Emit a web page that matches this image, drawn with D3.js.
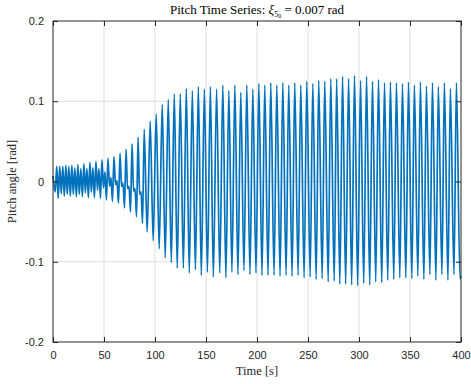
<!DOCTYPE html>
<html>
<head>
<meta charset="utf-8">
<script src="https://cdn.jsdelivr.net/npm/d3@7"></script>
<style>
  body { margin: 0; background: #fff; }
</style>
</head>
<body>
<div id="chart"></div>
<script>
// extrema of the pitch signal (time [s], pitch [rad])
var peakTimes = [
  0, 2.2, 3.7, 5.1, 6.6, 8.1, 9.6, 11.1, 12.6, 14.0, 15.5, 17.0, 18.5, 19.9,
  21.4, 22.9, 24.4, 25.8, 27.3, 28.8, 30.3, 31.7, 33.2, 34.7, 36.2, 37.6,
  39.1, 40.6, 42.1, 43.6, 45.0, 46.5, 48.0, 49.5, 50.9, 52.4,
  53.9, 55.4, 56.8, 58.3, 59.8, 61.3, 62.7, 64.2, 65.7, 67.2, 68.6, 70.1,
  71.6, 73.1, 74.5, 76.0, 77.5, 79.0, 80.4, 81.9, 83.4, 84.9, 86.3, 87.8,
  89.4, 92.3, 95.3, 98.2, 101.2, 104.1, 107.1, 110.0, 113.0, 116.0, 118.9,
  121.8, 124.8, 127.8, 130.7, 133.6, 136.6, 139.6, 142.5, 145.4, 148.4,
  151.4, 154.3, 157.2, 160.4, 163.5, 166.5, 169.5, 172.4, 175.4, 178.3,
  181.3, 184.1, 187.2, 190.0, 193.1, 195.9, 199.0, 201.8, 204.9, 207.6,
  210.8, 213.5, 216.7, 219.4, 222.6, 225.3, 228.5, 231.1, 234.4, 237.0,
  240.3, 242.9, 246.2, 248.8, 252.1, 254.7, 258.0, 260.5, 263.9, 266.4,
  269.8, 272.3, 275.7, 278.1, 281.2, 283.9, 286.9, 289.8, 292.8, 295.6,
  298.7, 301.5, 304.6, 307.4, 310.5, 313.2, 316.4, 319.1, 322.3, 325.0,
  328.2, 330.8, 334.1, 336.7, 340.0, 342.6, 345.9, 348.5, 351.8, 354.3,
  357.7, 360.2, 363.6, 366.1, 369.5, 372.0, 375.4, 377.8, 381.3, 383.7,
  387.2, 389.6, 393.1, 395.5, 399.0, 400
];
var peakPitch = [
  0.007, -0.013, 0.019, -0.021, 0.019, -0.015, 0.019, -0.018, 0.020, -0.016,
  0.019, -0.018, 0.020, -0.016, 0.017, -0.019, 0.021, -0.016, 0.016, -0.019,
  0.022, -0.014, 0.016, -0.020, 0.024, -0.013, 0.017, -0.020, 0.025, -0.011,
  0.016, -0.021, 0.027, -0.008, 0.012, -0.023,
  0.029, -0.006, 0.005, -0.025, 0.031, -0.004, 0.001, -0.027, 0.035, -0.006,
  -0.002, -0.033, 0.040, -0.009, -0.006, -0.038, 0.047, -0.012, -0.009, -0.044,
  0.055, -0.016, -0.013, -0.052,
  0.065, -0.063, 0.075, -0.074, 0.084, -0.084, 0.096, -0.095, 0.102, -0.101,
  0.109, -0.108, 0.109, -0.108, 0.116, -0.114, 0.113, -0.110, 0.118, -0.117,
  0.115, -0.113, 0.118, -0.119, 0.115, -0.114, 0.120, -0.120, 0.113, -0.113,
  0.120, -0.116, 0.111, -0.111, 0.120, -0.116, 0.115, -0.114, 0.122, -0.117,
  0.120, -0.117, 0.123, -0.117, 0.120, -0.118, 0.123, -0.117, 0.120, -0.118,
  0.123, -0.117, 0.120, -0.120, 0.125, -0.119, 0.122, -0.122, 0.126, -0.121,
  0.125, -0.125, 0.128, -0.124, 0.128, -0.128, 0.131, -0.128, 0.128, -0.129,
  0.132, -0.130, 0.126, -0.127, 0.131, -0.129, 0.125, -0.125, 0.127, -0.126,
  0.123, -0.123, 0.124, -0.122, 0.123, -0.120, 0.122, -0.120, 0.124, -0.121,
  0.120, -0.118, 0.124, -0.122, 0.119, -0.116, 0.123, -0.123, 0.118, -0.116,
  0.123, -0.123, 0.116, -0.116, 0.123, -0.121, -0.118
];

var xTicks = [0, 50, 100, 150, 200, 250, 300, 350, 400];
var yTicks = [-0.2, -0.1, 0, 0.1, 0.2];
var yTickLabels = ["-0.2", "-0.1", "0", "0.1", "0.2"];

var margin = {top: 21, right: 10, bottom: 42, left: 53},
    width = 471 - margin.left - margin.right,
    height = 384 - margin.top - margin.bottom;

var svg = d3.select("#chart")
  .append("svg")
    .attr("width", 471)
    .attr("height", 384)
  .append("g")
    .attr("transform", "translate(" + margin.left + "," + margin.top + ")");

var x = d3.scaleLinear().domain([0, 400]).range([0, width]);
var y = d3.scaleLinear().domain([-0.2, 0.2]).range([height, 0]);

var axisColor = "#262626";
var sans = "'Liberation Sans', Arial, sans-serif";
var serif = "'Liberation Serif', 'Times New Roman', serif";

// grid
svg.append("g")
  .selectAll("line.gx")
  .data(xTicks.slice(1, -1))
  .enter().append("line")
    .attr("x1", function(d) { return x(d); })
    .attr("x2", function(d) { return x(d); })
    .attr("y1", 0).attr("y2", height)
    .attr("stroke", "#dfdfdf").attr("stroke-width", 1);

svg.append("g")
  .selectAll("line.gy")
  .data(yTicks.slice(1, -1))
  .enter().append("line")
    .attr("x1", 0).attr("x2", width)
    .attr("y1", function(d) { return y(d); })
    .attr("y2", function(d) { return y(d); })
    .attr("stroke", "#dfdfdf").attr("stroke-width", 1);

// the signal
var line = d3.line()
  .x(function(d) { return x(d[0]); })
  .y(function(d) { return y(d[1]); })
  .curve(d3.curveMonotoneX);

var series = peakTimes.map(function(t, i) { return [t, peakPitch[i]]; });

svg.append("path")
  .datum(series)
  .attr("fill", "none")
  .attr("stroke", "#0072BD")
  .attr("stroke-width", 1.7)
  .attr("d", line);

// axes with inward ticks on all four sides
function styleAxis(g) {
  g.select(".domain").remove();
  g.selectAll(".tick line").attr("stroke", axisColor);
  g.selectAll(".tick text")
    .attr("fill", axisColor)
    .style("font-family", sans)
    .style("font-size", "11px");
}

svg.append("g")
  .attr("transform", "translate(0," + height + ")")
  .call(d3.axisBottom(x).tickValues(xTicks).tickSizeInner(-5).tickPadding(9)
        .tickFormat(d3.format("d")))
  .call(styleAxis);

svg.append("g")
  .call(d3.axisTop(x).tickValues(xTicks).tickSizeInner(-5).tickFormat(""))
  .call(styleAxis);

svg.append("g")
  .call(d3.axisLeft(y).tickValues(yTicks).tickSizeInner(-5).tickPadding(9)
        .tickFormat(function(d, i) { return yTickLabels[i]; }))
  .call(styleAxis);

svg.append("g")
  .attr("transform", "translate(" + width + ",0)")
  .call(d3.axisRight(y).tickValues(yTicks).tickSizeInner(-5).tickFormat(""))
  .call(styleAxis);

// box
svg.append("rect")
  .attr("x", 0).attr("y", 0)
  .attr("width", width).attr("height", height)
  .attr("fill", "none")
  .attr("stroke", axisColor)
  .attr("stroke-width", 1);

// title with nested subscript
var title = svg.append("text")
  .attr("x", width / 2)
  .attr("y", -7)
  .attr("text-anchor", "middle")
  .style("font-family", serif)
  .style("font-size", "13px")
  .attr("fill", "#000");
title.append("tspan").text("Pitch Time Series: ");
title.append("tspan").style("font-style", "italic").text("\u03BE");
title.append("tspan").attr("dy", 2.5).style("font-size", "8px").text("5");
title.append("tspan").attr("dy", 1.5).style("font-size", "6px").text("0");
title.append("tspan").attr("dy", -4).text(" = 0.007 rad");

svg.append("text")
  .attr("x", width / 2)
  .attr("y", height + 33)
  .attr("text-anchor", "middle")
  .style("font-family", serif)
  .style("font-size", "12.5px")
  .attr("fill", "#262626")
  .text("Time [s]");

svg.append("text")
  .attr("transform", "rotate(-90)")
  .attr("x", -height / 2)
  .attr("y", -37)
  .attr("text-anchor", "middle")
  .style("font-family", serif)
  .style("font-size", "12.5px")
  .attr("fill", "#262626")
  .text("Pitch angle [rad]");
</script>
</body>
</html>
